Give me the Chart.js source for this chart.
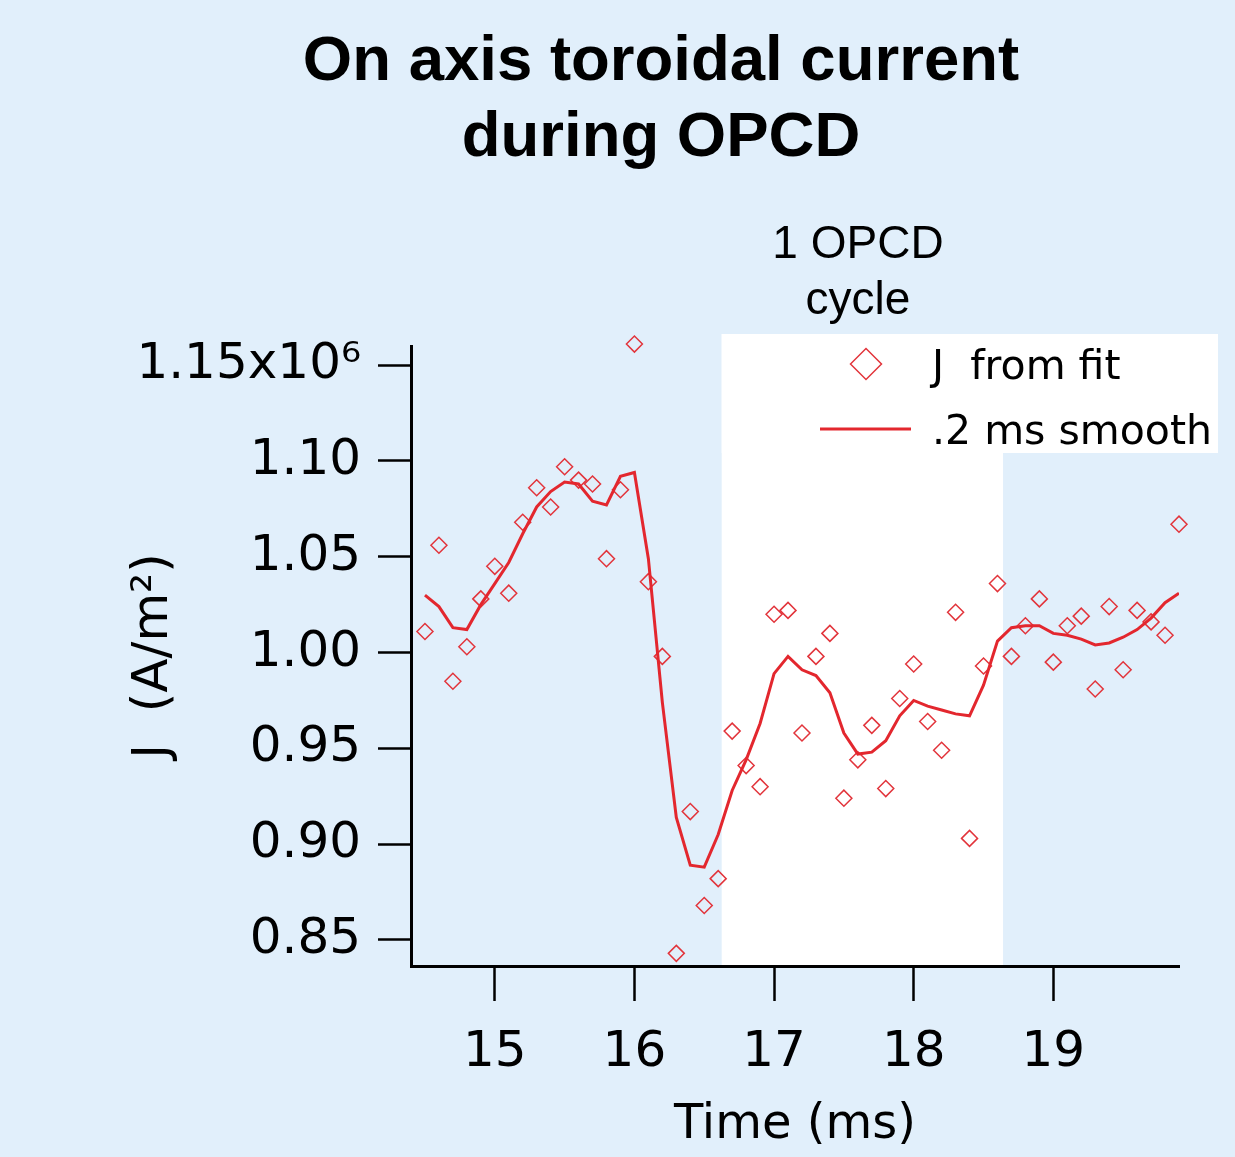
<!DOCTYPE html>
<html>
<head>
    <title>On axis toroidal current during OPCD</title>
    <script src="https://cdn.jsdelivr.net/npm/chart.js"></script>
    <style>
        html, body { margin: 0; padding: 0; background: #e1effb; }
    </style>
</head>
<body>
    <canvas id="opcd-chart" width="1235" height="1157"></canvas>

    <script>
        'use strict';

        // sample times (ms)
        const times = [
            14.5, 14.6, 14.7, 14.8, 14.9, 15.0, 15.1, 15.2, 15.3, 15.4,
            15.5, 15.6, 15.7, 15.8, 15.9, 16.0, 16.1, 16.2, 16.3, 16.4,
            16.5, 16.6, 16.7, 16.8, 16.9, 17.0, 17.1, 17.2, 17.3, 17.4,
            17.5, 17.6, 17.7, 17.8, 17.9, 18.0, 18.1, 18.2, 18.3, 18.4,
            18.5, 18.6, 18.7, 18.8, 18.9, 19.0, 19.1, 19.2, 19.3, 19.4,
            19.5, 19.6, 19.7, 19.8, 19.9
        ];

        // J from fit (x10^6 A/m^2)
        const jFit = [
            1.011, 1.056, 0.985, 1.003, 1.028, 1.045, 1.031, 1.068, 1.086, 1.076,
            1.097, 1.090, 1.088, 1.049, 1.085, 1.161, 1.037, 0.998, 0.843, 0.917,
            0.868, 0.882, 0.959, 0.941, 0.930, 1.020, 1.022, 0.958, 0.998, 1.010,
            0.924, 0.944, 0.962, 0.929, 0.976, 0.994, 0.964, 0.949, 1.021, 0.903,
            0.993, 1.036, 0.998, 1.014, 1.028, 0.995, 1.014, 1.019, 0.981, 1.024,
            0.991, 1.022, 1.016, 1.009, 1.067
        ];

        // .2 ms smooth
        const jSmooth = [
            1.030, 1.024, 1.013, 1.012, 1.025, 1.036, 1.047, 1.062, 1.076, 1.084,
            1.089, 1.088, 1.079, 1.077, 1.092, 1.094, 1.049, 0.974, 0.914, 0.889,
            0.888, 0.905, 0.928, 0.944, 0.963, 0.989, 0.998, 0.991, 0.988, 0.979,
            0.958, 0.947, 0.948, 0.954, 0.967, 0.975, 0.972, 0.970, 0.968, 0.967,
            0.983, 1.006, 1.013, 1.014, 1.014, 1.010, 1.009, 1.007, 1.004, 1.005,
            1.008, 1.012, 1.018, 1.026, 1.031
        ];

        const xTickValues = [15, 16, 17, 18, 19];
        const xTickLabels = ['15', '16', '17', '18', '19'];
        const yTickValues = [0.85, 0.90, 0.95, 1.00, 1.05, 1.10, 1.15];
        const yTickLabels = ['0.85', '0.90', '0.95', '1.00', '1.05', '1.10', '1.15x10⁶'];

        // one OPCD cycle (ms)
        const cycleStart = 16.625;
        const cycleEnd = 18.64;

        const bgColor = '#e1effb';
        const lineRed = '#e3272e';
        const markerRed = '#e2343b';
        const sansFont = "'DejaVu Sans', sans-serif";
        const helvFont = "'Liberation Sans', Arial, sans-serif";

        const backdrop = {
            id: 'backdrop',
            beforeDraw(chart) {
                const {ctx, chartArea, scales: {x}} = chart;
                ctx.save();
                ctx.fillStyle = bgColor;
                ctx.fillRect(0, 0, chart.width, chart.height);
                const x0 = x.getPixelForValue(cycleStart);
                const x1 = x.getPixelForValue(cycleEnd);
                ctx.fillStyle = '#ffffff';
                ctx.fillRect(x0, chartArea.top - 12, x1 - x0, chartArea.bottom - chartArea.top + 12);
                // legend box
                ctx.fillRect(x0, chartArea.top - 12, 1218 - x0, 119);
                ctx.restore();
            },
            afterDraw(chart) {
                const ctx = chart.ctx;
                ctx.save();
                ctx.fillStyle = '#000';
                ctx.textAlign = 'center';
                ctx.textBaseline = 'alphabetic';
                ctx.font = 'bold 63.5px ' + helvFont;
                ctx.fillText('On axis toroidal current', 661, 80);
                ctx.fillText('during OPCD', 661, 156);

                ctx.font = '46px ' + helvFont;
                ctx.fillText('1 OPCD', 858, 258);
                ctx.fillText('cycle', 858, 314);

                // legend
                ctx.strokeStyle = markerRed;
                ctx.lineWidth = 1.5;
                ctx.beginPath();
                ctx.moveTo(866 - 15.5, 364);
                ctx.lineTo(866, 364 - 15.5);
                ctx.lineTo(866 + 15.5, 364);
                ctx.lineTo(866, 364 + 15.5);
                ctx.closePath();
                ctx.stroke();

                ctx.strokeStyle = lineRed;
                ctx.lineWidth = 3;
                ctx.beginPath();
                ctx.moveTo(820, 429);
                ctx.lineTo(911, 429);
                ctx.stroke();

                ctx.textAlign = 'left';
                ctx.font = '41px ' + sansFont;
                ctx.fillText('J  from fit', 932, 379);
                ctx.fillText('.2 ms smooth', 932, 444);
                ctx.restore();
            }
        };

        const ctx = document.getElementById('opcd-chart').getContext('2d');

        new Chart(ctx, {
            type: 'scatter',
            data: {
                datasets: [{
                    label: '.2 ms smooth',
                    data: times.map((t, i) => ({x: t, y: jSmooth[i]})),
                    showLine: true,
                    borderColor: lineRed,
                    borderWidth: 3,
                    pointRadius: 0,
                    tension: 0,
                    order: 1
                }, {
                    label: 'J  from fit',
                    data: times.map((t, i) => ({x: t, y: jFit[i]})),
                    showLine: false,
                    pointStyle: 'rectRot',
                    pointRadius: 8,
                    pointBorderWidth: 1.5,
                    borderColor: markerRed,
                    backgroundColor: 'rgba(0,0,0,0)',
                    clip: false,
                    order: 2
                }]
            },
            options: {
                responsive: false,
                animation: false,
                layout: {
                    padding: {top: 346, right: 56, bottom: 0, left: 0}
                },
                scales: {
                    x: {
                        type: 'linear',
                        position: 'bottom',
                        min: 14.4,
                        max: 19.9,
                        afterBuildTicks: (scale) => {
                            scale.ticks = xTickValues.map(v => ({value: v}));
                        },
                        afterFit: (scale) => {
                            scale.height = 191;
                        },
                        grid: {
                            drawOnChartArea: false,
                            drawTicks: true,
                            tickLength: 35,
                            tickWidth: 2.5,
                            tickColor: '#000'
                        },
                        border: {
                            display: true,
                            color: '#000',
                            width: 3
                        },
                        ticks: {
                            color: '#000',
                            padding: 22,
                            maxRotation: 0,
                            font: {family: sansFont, size: 50},
                            callback: (value, index) => xTickLabels[index]
                        },
                        title: {
                            display: true,
                            text: 'Time (ms)',
                            color: '#000',
                            font: {family: sansFont, size: 48},
                            padding: {top: 0, bottom: 3}
                        }
                    },
                    y: {
                        type: 'linear',
                        position: 'left',
                        min: 0.8364,
                        max: 1.16,
                        afterBuildTicks: (scale) => {
                            scale.ticks = yTickValues.map(v => ({value: v}));
                        },
                        afterFit: (scale) => {
                            scale.width = 411;
                        },
                        grid: {
                            drawOnChartArea: false,
                            drawTicks: true,
                            tickLength: 33,
                            tickWidth: 2.5,
                            tickColor: '#000'
                        },
                        border: {
                            display: true,
                            color: '#000',
                            width: 3
                        },
                        ticks: {
                            color: '#000',
                            padding: 17,
                            font: {family: sansFont, size: 50},
                            callback: (value, index) => yTickLabels[index]
                        },
                        title: {
                            display: true,
                            text: 'J  (A/m²)',
                            color: '#000',
                            font: {family: sansFont, size: 50},
                            padding: {top: 124, bottom: 0}
                        }
                    }
                },
                plugins: {
                    legend: {display: false},
                    tooltip: {enabled: false}
                }
            },
            plugins: [backdrop]
        });
    </script>
</body>
</html>
